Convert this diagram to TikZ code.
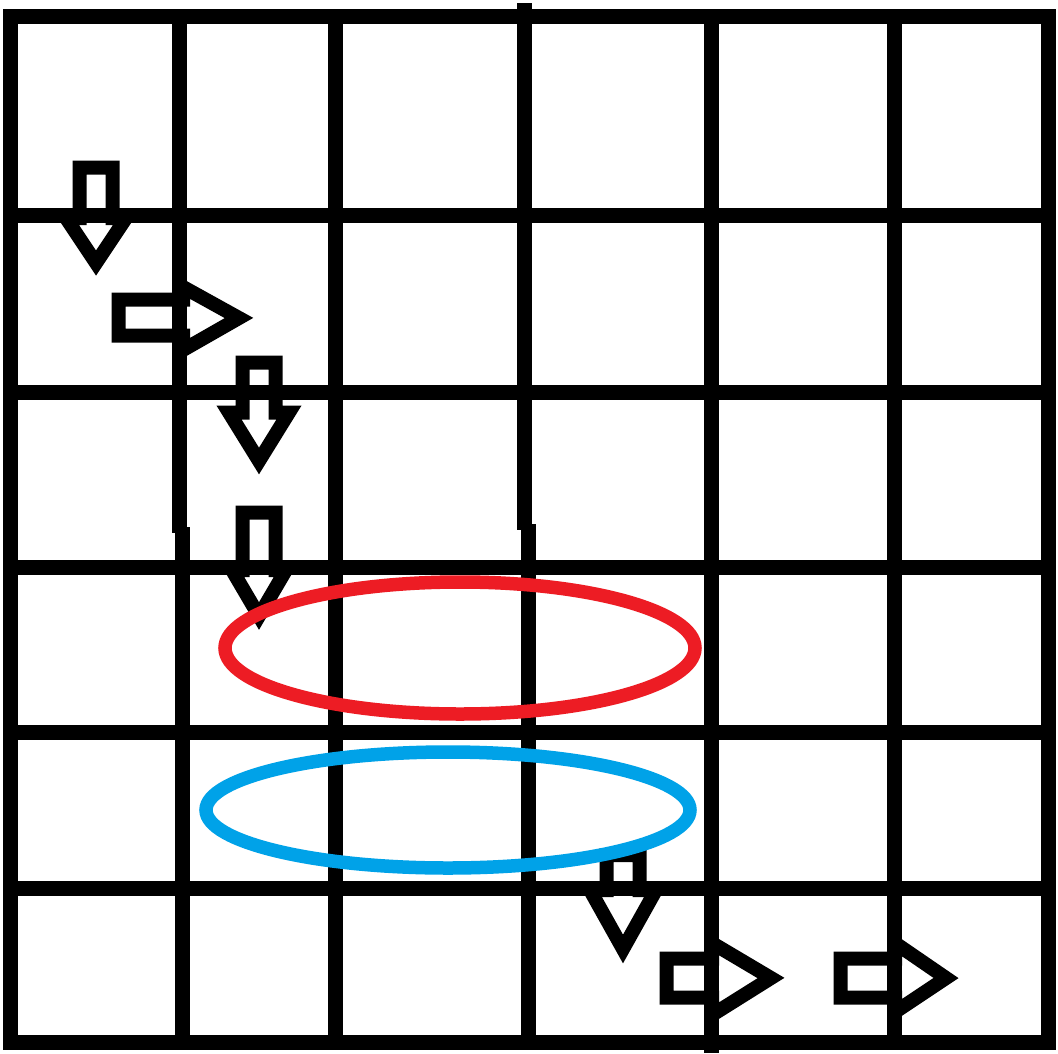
\documentclass[tikz,border=0pt]{standalone}
\definecolor{pred}{HTML}{ED1C24}
\definecolor{pblue}{HTML}{00A2E8}
\begin{document}
\begin{tikzpicture}[x=1pt,y=-1pt,
  gridline/.style={line width=15pt,line cap=butt,black},
  blockarrow/.style={line width=14pt,line join=miter,black},
  ring/.style={line width=13.5pt}]
\useasboundingbox (0,0) rectangle (1058,1053);
\fill[white] (0,0) rectangle (1058,1053);
% horizontal grid lines
\foreach \y in {16.5,215.5,392.5,567.5,732.5,888.5,1042.5}
  \draw[gridline] (3,\y) -- (1056,\y);
% vertical grid lines
\draw[gridline] (10.5,9) -- (10.5,1050);
\draw[gridline] (179.5,9) -- (179.5,533);
\draw[gridline] (182.5,527) -- (182.5,1050);
\draw[gridline] (335.5,9) -- (335.5,1050);
\draw[gridline] (524.5,3) -- (524.5,530);
\draw[gridline] (528.5,524) -- (528.5,1050);
\draw[gridline] (711.5,9) -- (711.5,1053);
\draw[gridline] (894.5,9) -- (894.5,1050);
\draw[gridline] (1048.5,9) -- (1048.5,1050);
% down arrows
\draw[blockarrow] (79.5,167.5) -- (112.5,167.5) -- (112.5,218) -- (126,218) -- (96,263) -- (66,218) -- (79.5,218) -- cycle;
\draw[blockarrow] (242.5,362.5) -- (275.5,362.5) -- (275.5,412.5) -- (289,412.5) -- (259,461) -- (229,412.5) -- (242.5,412.5) -- cycle;
\draw[blockarrow] (242.5,512.5) -- (275.5,512.5) -- (275.5,570) -- (286,570) -- (259,616) -- (232,570) -- (242.5,570) -- cycle;
\draw[blockarrow] (606.5,855) -- (639.5,855) -- (639.5,890) -- (656,890) -- (623,949) -- (590,890) -- (606.5,890) -- cycle;
% right arrows
\draw[blockarrow] (118.5,299.5) -- (183,299.5) -- (183,287) -- (239,318) -- (183,350) -- (183,335.5) -- (118.5,335.5) -- cycle;
\draw[blockarrow] (666.5,958.5) -- (712,958.5) -- (712,943) -- (771,978) -- (712,1015) -- (712,997.5) -- (666.5,997.5) -- cycle;
\draw[blockarrow] (840.5,958.5) -- (895,958.5) -- (895,943) -- (946,978) -- (895,1012) -- (895,997.5) -- (840.5,997.5) -- cycle;
% ellipses
\draw[ring,pred] (460,648) ellipse [x radius=235, y radius=66];
\draw[ring,pblue] (448,810) ellipse [x radius=242, y radius=58];
\end{tikzpicture}
\end{document}
